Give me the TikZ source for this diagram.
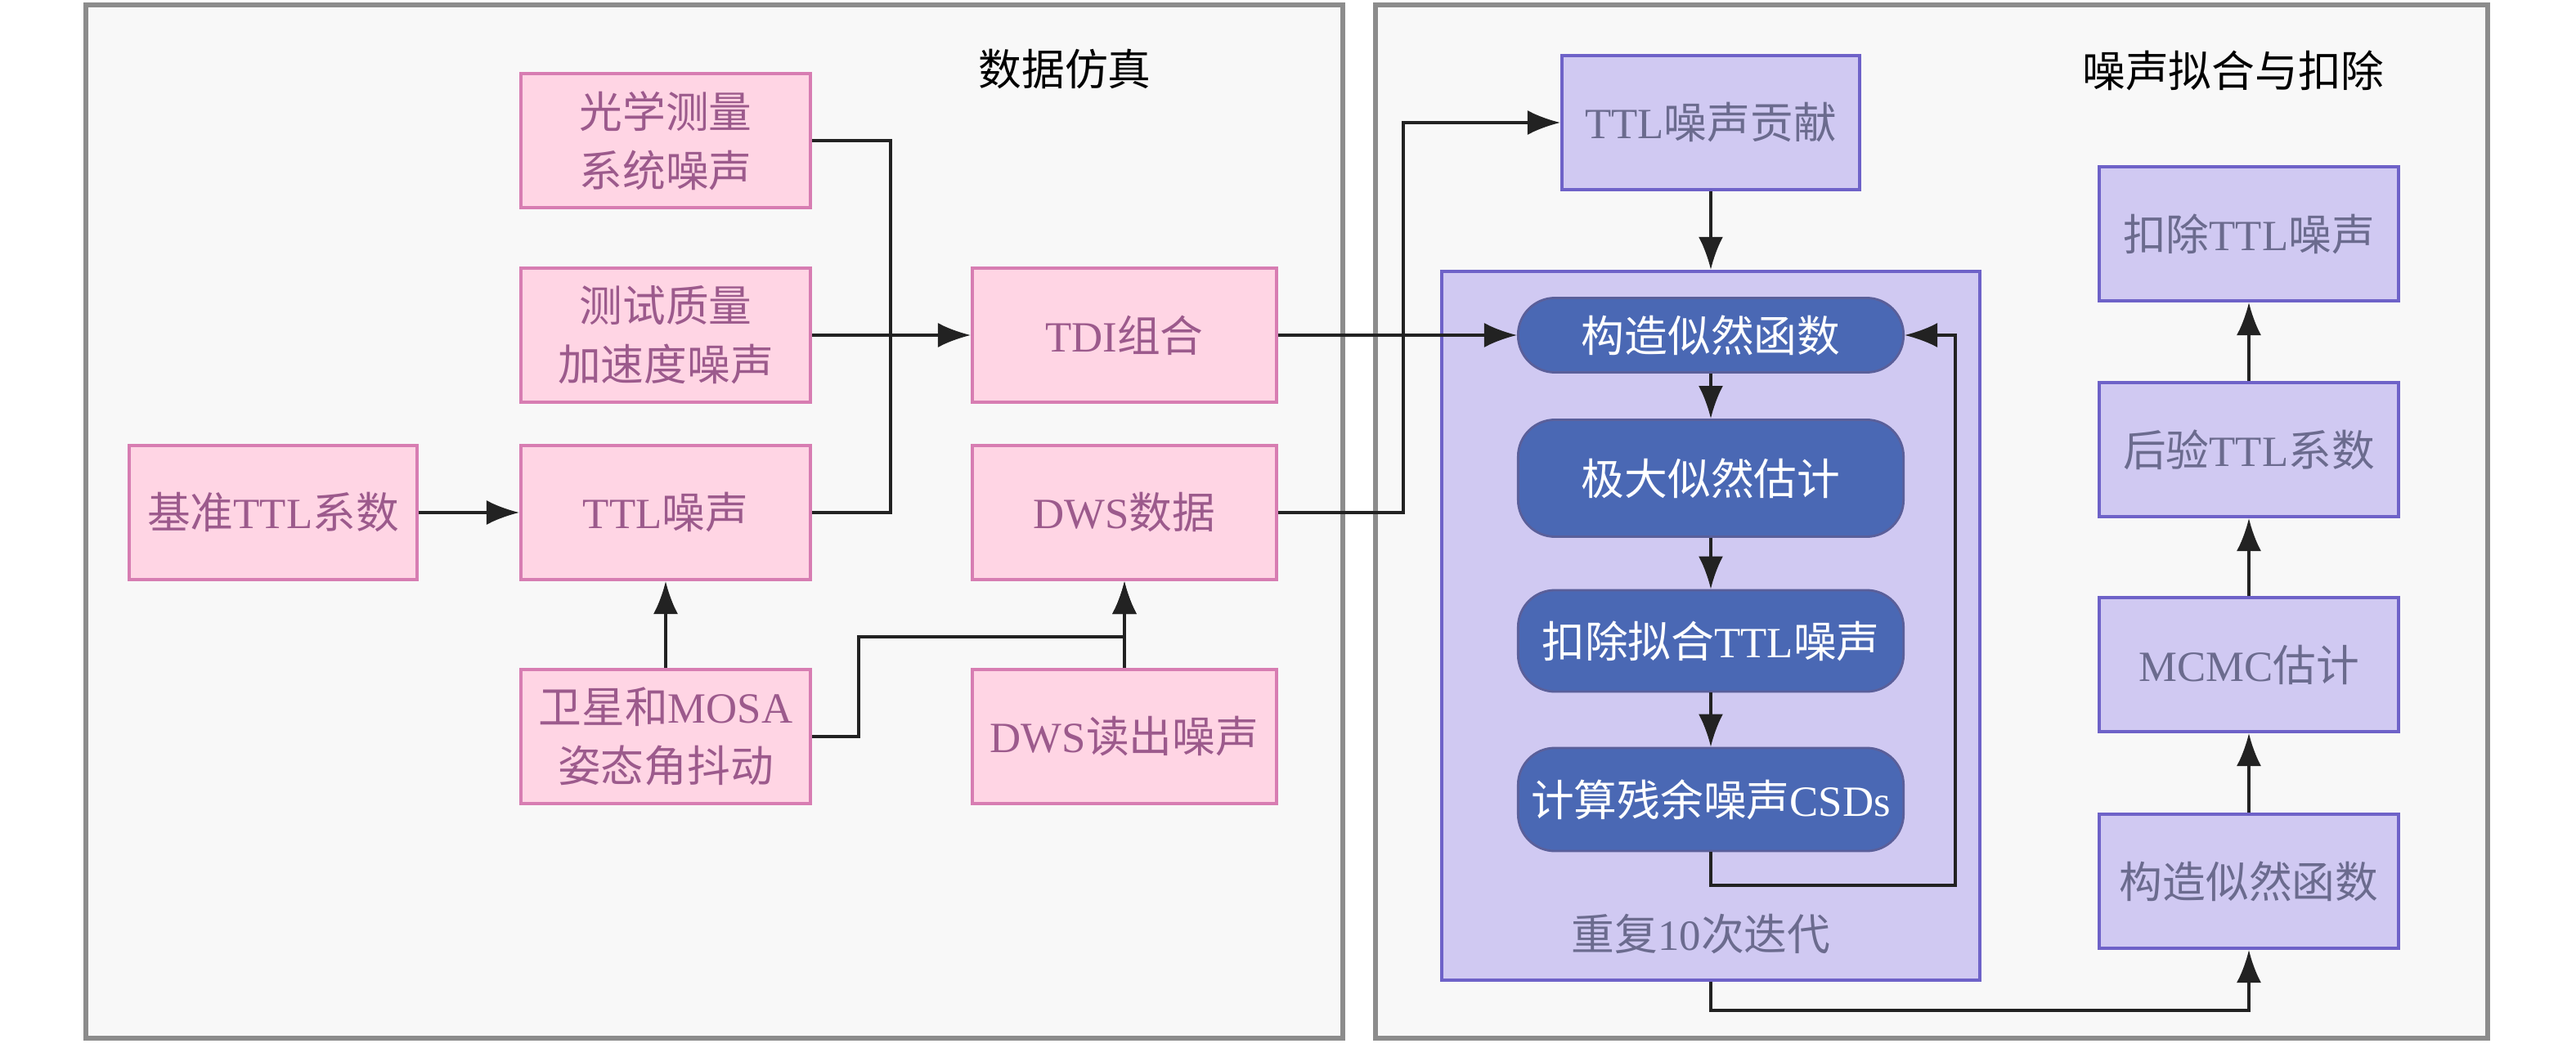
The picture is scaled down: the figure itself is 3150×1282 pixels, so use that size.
\documentclass[tikz,border=0pt]{standalone}
\usepackage{fontspec}
\setmainfont{Noto Sans CJK SC}
\newfontfamily\lat{Liberation Serif}
\usetikzlibrary{arrows.meta}

\definecolor{panelfill}{HTML}{F8F8F8}
\definecolor{panelline}{HTML}{8C8C8C}
\definecolor{pinkfill}{HTML}{FFD5E4}
\definecolor{pinkline}{HTML}{D77DB2}
\definecolor{pinktext}{HTML}{9C5A8C}
\definecolor{lavfill}{HTML}{D0C9F2}
\definecolor{lavline}{HTML}{6E62C8}
\definecolor{lavtext}{HTML}{6B6B8E}
\definecolor{bluefill}{HTML}{4A68B4}
\definecolor{blueline}{HTML}{5A5F9A}
\definecolor{linecol}{HTML}{222222}

\tikzset{
  panel/.style={draw=panelline, line width=1.6pt, fill=panelfill},
  simbox/.style={draw=pinkline, line width=1.1pt, fill=pinkfill, text=pinktext,
    minimum width=3.54cm, minimum height=1.64cm, align=center},
  fitbox/.style={draw=lavline, line width=1.1pt, fill=lavfill, text=lavtext,
    minimum width=3.65cm, minimum height=1.64cm, align=center},
  loopbox/.style={draw=lavline, line width=1.1pt, fill=lavfill,
    minimum width=6.58cm, minimum height=8.67cm},
  stepnode/.style={draw=blueline, line width=0.8pt, fill=bluefill, text=white,
    rounded corners=0.45cm, minimum width=4.71cm, align=center},
  arrow/.style={draw=linecol, line width=1pt, -{Latex[length=4mm,width=3mm]}},
  link/.style={draw=linecol, line width=1pt},
}

\begin{document}
\begin{tikzpicture}[x=0.01cm, y=-0.01cm, font=\fontsize{15}{20.5}\selectfont]

\useasboundingbox (0,0) rectangle (3150,1282);

% panels
\draw [panel] (105,6) rectangle (1642,1270);
\draw [panel] (1682,6) rectangle (3042,1270);

\node[text=black] (simtitle) at (1302,84) {数据仿真};
\node[text=black] (fittitle) at (2731,86) {噪声拟合与扣除};

% data simulation
\node[simbox] (optic) at (814,172) {光学测量\\系统噪声};
\node[simbox] (tmacc) at (814,410) {测试质量\\加速度噪声};
\node[simbox, minimum width=3.52cm] (refttl) at (334,627) {基准{\lat TTL}系数};
\node[simbox] (ttlnoise) at (814,627) {{\lat TTL}噪声};
\node[simbox] (jitter) at (814,901) {卫星和{\lat MOSA}\\姿态角抖动};
\node[simbox, minimum width=3.72cm] (tdi) at (1375,410) {{\lat TDI}组合};
\node[simbox, minimum width=3.72cm] (dws) at (1375,627) {{\lat DWS}数据};
\node[simbox, minimum width=3.72cm] (dwsread) at (1375,901) {{\lat DWS}读出噪声};

% noise fitting
\node[fitbox, minimum width=3.64cm] (contrib) at (2092,150) {{\lat TTL}噪声贡献};
\node[loopbox] (loop) at (2092,765.5) {};
\node[stepnode, minimum height=0.91cm] (like) at (2092,410) {构造似然函数};
\node[stepnode, minimum height=1.43cm] (mle) at (2092,585) {极大似然估计};
\node[stepnode, minimum height=1.24cm] (subfit) at (2092,784) {扣除拟合{\lat TTL}噪声};
\node[stepnode, minimum height=1.26cm] (resid) at (2092,978) {计算残余噪声{\lat CSDs}};
\node[text=lavtext] (repeat) at (2080,1143) {重复{\lat 10}次迭代};

\node[fitbox] (likeb) at (2750,1078) {构造似然函数};
\node[fitbox] (mcmc) at (2750,813) {{\lat MCMC}估计};
\node[fitbox] (post) at (2750,550) {后验{\lat TTL}系数};
\node[fitbox] (subttl) at (2750,286) {扣除{\lat TTL}噪声};

% connectors
\coordinate (join) at (1089,410);
\coordinate (jbend) at (1050,779);
\coordinate (dbend) at (1716,150);
\coordinate (lbend) at (2391,1083);
\coordinate (rbend) at (2750,1236);

\draw [link] (optic) -| (join);
\draw [link] (ttlnoise) -| (join);
\draw [arrow] (tmacc) -- (tdi);
\draw [arrow] (refttl) -- (ttlnoise);
\draw [arrow] (jitter) -- (ttlnoise);
\draw [arrow] (jitter) -| (jbend) -| (dws);
\draw [arrow] (dwsread) -- (dws);

\draw [arrow] (tdi) -- (like);
\draw [arrow] (dws) -| (dbend) -- (contrib);
\draw [arrow] (contrib) -- (loop);
\draw [arrow] (like) -- (mle);
\draw [arrow] (mle) -- (subfit);
\draw [arrow] (subfit) -- (resid);
\draw [arrow] (resid.south) |- (lbend) |- (like.east);

\draw [arrow] (loop.south) |- (rbend) -- (likeb);
\draw [arrow] (likeb) -- (mcmc);
\draw [arrow] (mcmc) -- (post);
\draw [arrow] (post) -- (subttl);

\end{tikzpicture}
\end{document}
